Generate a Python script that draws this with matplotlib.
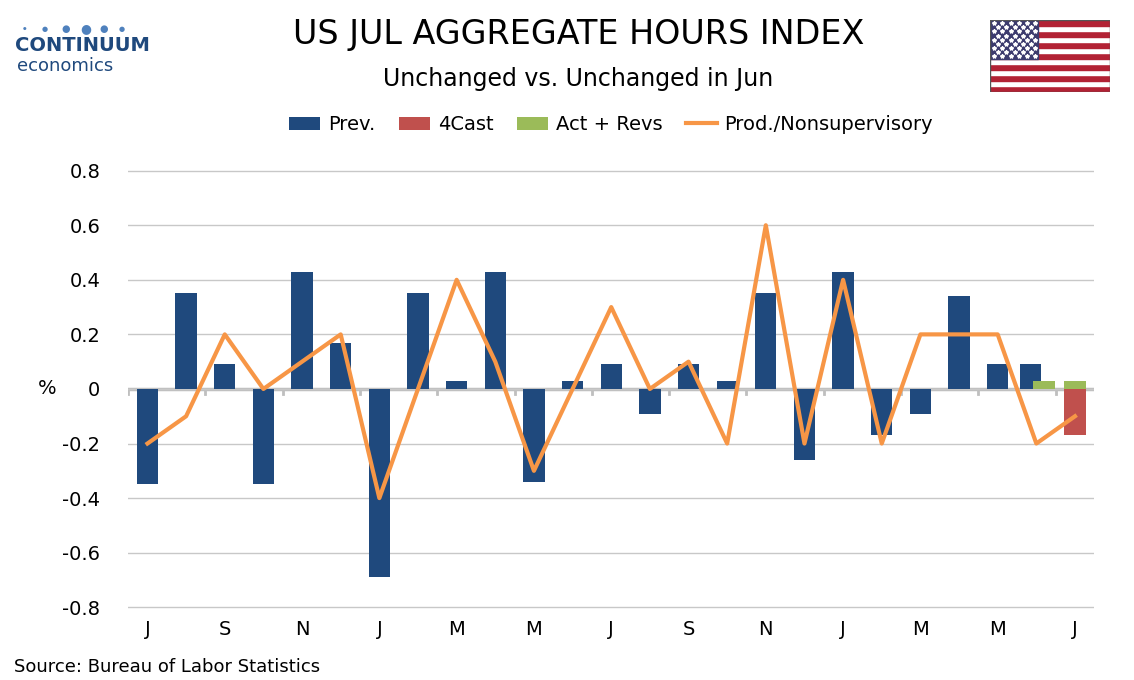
import matplotlib
matplotlib.use("Agg")
import matplotlib.pyplot as plt
import numpy as np

prev = [-0.35, 0.35, 0.09, -0.35, 0.43, 0.17, -0.69, 0.35, 0.03, 0.43, -0.34, 0.03,
        0.09, -0.09, 0.09, 0.03, 0.35, -0.26, 0.43, -0.17, -0.09, 0.34, 0.09, 0.09]
fcast = -0.17
act = [0.03, 0.03]
prod = [-0.2, -0.1, 0.2, 0.0, 0.1, 0.2, -0.4, 0.0, 0.4, 0.1, -0.3, 0.0, 0.3, 0.0, 0.1,
        -0.2, 0.6, -0.2, 0.4, -0.2, 0.2, 0.2, 0.2, -0.2, -0.1]
xlabels = ["J", "S", "N", "J", "M", "M", "J", "S", "N", "J", "M", "M", "J"]

fig = plt.figure(figsize=(11.34, 6.8), dpi=100)
ax = fig.add_axes([0.113, 0.105, 0.852, 0.646])
blue, red, green, orange = "#1f497d", "#c0504d", "#9bbb59", "#f79646"
x = np.arange(25)
bx = x[:24].astype(float)
bx[23] -= 0.15
h1 = ax.bar(bx, prev, width=0.55, color=blue, label="Prev.", zorder=2)
h2 = ax.bar([24], [fcast], width=0.55, color=red, label="4Cast", zorder=2)
h3 = ax.bar([23.2, 24], act, width=0.55, color=green, label="Act + Revs", zorder=3)
h4, = ax.plot(x, prod, color=orange, lw=3, label="Prod./Nonsupervisory", zorder=4)

ax.set_ylim(-0.805, 0.805)
ax.set_xlim(-0.5, 24.5)
ax.set_yticks(np.arange(-0.8, 0.81, 0.2))
ax.set_yticklabels(["-0.8", "-0.6", "-0.4", "-0.2", "0", "0.2", "0.4", "0.6", "0.8"])
ax.grid(axis="y", color="#c8c8c8", lw=1, zorder=0)
ax.axhline(0, color="#bfbfbf", lw=2.5, zorder=1)
for s in ax.spines.values():
    s.set_visible(False)
ax.tick_params(axis="y", length=0, labelsize=14, pad=20)
ax.set_xticks(x[::2])
ax.set_xticklabels(xlabels)
ax.tick_params(axis="x", length=0, labelsize=14, pad=8)
ax.text(-2.6, 0, "%", fontsize=14, va="center", ha="center")
for t in np.arange(-0.5, 25, 2):
    ax.plot([t, t], [0, -0.02], color="#bfbfbf", lw=2, zorder=1)

ax.legend([h1, h2, h3, h4], ["Prev.", "4Cast", "Act + Revs", "Prod./Nonsupervisory"],
          loc="lower center", bbox_to_anchor=(0.5, 1.04), ncol=4, frameon=False,
          fontsize=14, handlelength=1.6, columnspacing=1.2, handletextpad=0.4)

fig.text(0.51, 0.935, "US JUL AGGREGATE HOURS INDEX", ha="center", fontsize=24)
fig.text(0.51, 0.873, "Unchanged vs. Unchanged in Jun", ha="center", fontsize=17)
fig.text(0.012, 0.012, "Source: Bureau of Labor Statistics", fontsize=13)
fig.text(0.013, 0.925, "CONTINUUM", fontsize=14, color="#1f497d", fontweight="bold")
fig.text(0.015, 0.895, "economics", fontsize=13, color="#1f497d")
for i, sz in enumerate([3, 5, 7, 9, 7, 5]):
    fig.text(0.02 + i * 0.017, 0.958, "●", fontsize=sz, color="#4f81bd", va="center")

fa = fig.add_axes([0.873, 0.865, 0.106, 0.105])
for i in range(13):
    fa.axhspan(i, i + 1, color="#b22234" if i % 2 == 0 else "white")
fa.axhspan(6, 13, xmin=0, xmax=0.4, color="#3c3b6e")
for r in range(9):
    for c in range(6 if r % 2 == 0 else 5):
        cx = 0.65 + c * 1.3 + (0 if r % 2 == 0 else 0.65)
        fa.plot(cx, 12.5 - r * 0.75, marker="*", color="white", ms=3)
fa.set_xlim(0, 19)
fa.set_ylim(0, 13)
fa.axis("off")
fa.add_patch(plt.Rectangle((0, 0), 19, 13, fill=False, ec="#555555", lw=1))
fig.savefig("out.png", dpi=100)
